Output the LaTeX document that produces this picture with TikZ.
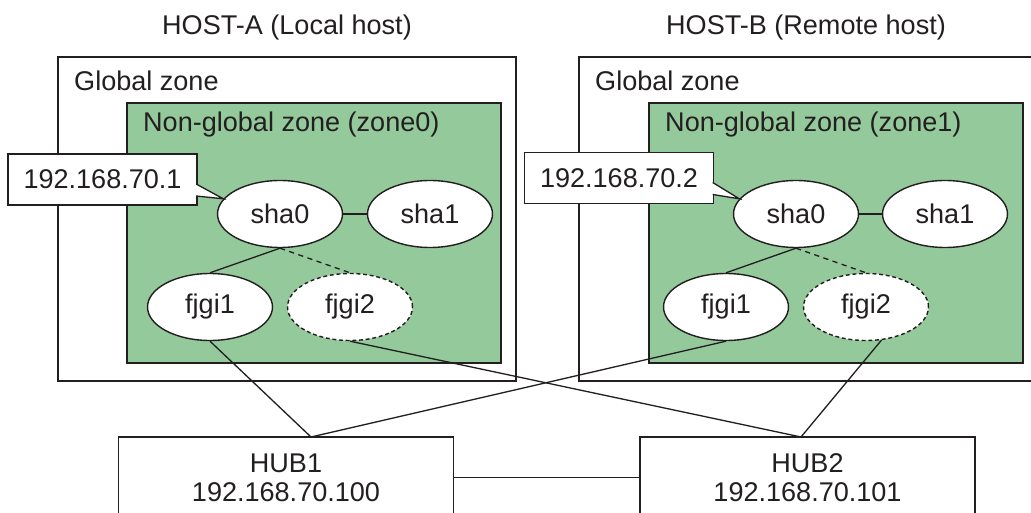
\documentclass[tikz,border=0pt]{standalone}
\usepackage{fontspec}
\setmainfont{Liberation Sans}
\usetikzlibrary{shapes.geometric, calc}
\definecolor{zonegreen}{RGB}{148, 201, 155}
\definecolor{inkgray}{RGB}{35, 31, 32}

\tikzset{
  every node/.style={font=\fontsize{15.4}{16.5}\selectfont, text=inkgray},
  hostbox/.style={draw=inkgray, line width=0.8pt, fill=white, minimum width=9.16cm, minimum height=6.48cm},
  zonebox/.style={draw=inkgray, line width=0.8pt, fill=zonegreen, minimum width=7.48cm, minimum height=5.2cm},
  ifnode/.style={ellipse, draw=inkgray, line width=0.8pt, fill=white, minimum width=2.5cm, minimum height=1.34cm, inner sep=0pt},
  ifspare/.style={ifnode, dash pattern=on 2.2pt off 1.6pt},
  addrbox/.style={draw=inkgray, line width=0.8pt, fill=white, minimum width=3.78cm, minimum height=1.02cm},
  hubbox/.style={draw=inkgray, line width=0.8pt, fill=white, minimum width=6.7cm, minimum height=1.62cm, align=center},
  link/.style={draw=inkgray, line width=0.75pt},
  sparelink/.style={link, dash pattern=on 3pt off 2.5pt},
}

\begin{document}
\begin{tikzpicture}[x=0.02cm, y=-0.02cm]
  \useasboundingbox (0,0) rectangle (1031,513);

  % Local host
  \node (titleA) at (287, 28) {HOST-A (Local host)};
  \node[hostbox] (globA) at (287, 219) {};
  \node[anchor=west] (globlabA) at (68, 81) {Global zone};
  \node[zonebox] (zoneA) at (314, 233) {};
  \node[anchor=west] (zonelabA) at (137, 125) {Non-global zone (zone0)};

  % Remote host
  \node (titleB) at (806, 28) {HOST-B (Remote host)};
  \node[hostbox] (globB) at (808, 219) {};
  \node[anchor=west] (globlabB) at (589, 81) {Global zone};
  \node[zonebox] (zoneB) at (836, 233) {};
  \node[anchor=west] (zonelabB) at (659, 125) {Non-global zone (zone1)};

  % Interfaces
  \node[ifnode] (shaA0) at (280, 214) {sha0};
  \node[ifnode] (shaA1) at (430, 214) {sha1};
  \node[ifnode] (fjgiA1) at (210, 307) {fjgi1};
  \node[ifspare] (fjgiA2) at (350, 307) {fjgi2};

  \node[ifnode] (shaB0) at (796, 214) {sha0};
  \node[ifnode] (shaB1) at (945, 214) {sha1};
  \node[ifnode] (fjgiB1) at (726, 307) {fjgi1};
  \node[ifspare] (fjgiB2) at (866, 307) {fjgi2};

  \draw[link] (shaA0) -- (shaA1);
  \draw[link] (shaA0.south) -- (fjgiA1.north);
  \draw[sparelink] (shaA0.south) -- (fjgiA2.north);
  \draw[link] (shaB0) -- (shaB1);
  \draw[link] (shaB0.south) -- (fjgiB1.north);
  \draw[sparelink] (shaB0.south) -- (fjgiB2.north);

  % Addresses
  \node[addrbox] (addrA) at (102.5, 179.5) {192.168.70.1};
  \filldraw[link, fill=white] ($(addrA.east)+(-1.5,4.5)$) -- (shaA0.165) -- ($(addrA.east)+(-1.5,16.5)$);
  \node[addrbox] (addrB) at (619, 178) {192.168.70.2};
  \filldraw[link, fill=white] ($(addrB.east)+(-1.5,4.5)$) -- (shaB0.165) -- ($(addrB.east)+(-1.5,16.5)$);

  % Hubs
  \node[hubbox] (hub1) at (286, 477.5) {HUB1\\192.168.70.100};
  \node[hubbox] (hub2) at (807.5, 477.5) {HUB2\\192.168.70.101};
  \coordinate (hub1in) at (311, 437);
  \coordinate (hub2in) at (801, 437);

  \draw[link] (hub1) -- (hub2);
  \draw[link] (fjgiA1.south) -- (hub1in);
  \draw[link] (fjgiB1.south) -- (hub1in);
  \draw[link] (fjgiA2.south) -- (hub2in);
  \draw[link] (fjgiB2.-65) -- (hub2in);
\end{tikzpicture}
\end{document}
